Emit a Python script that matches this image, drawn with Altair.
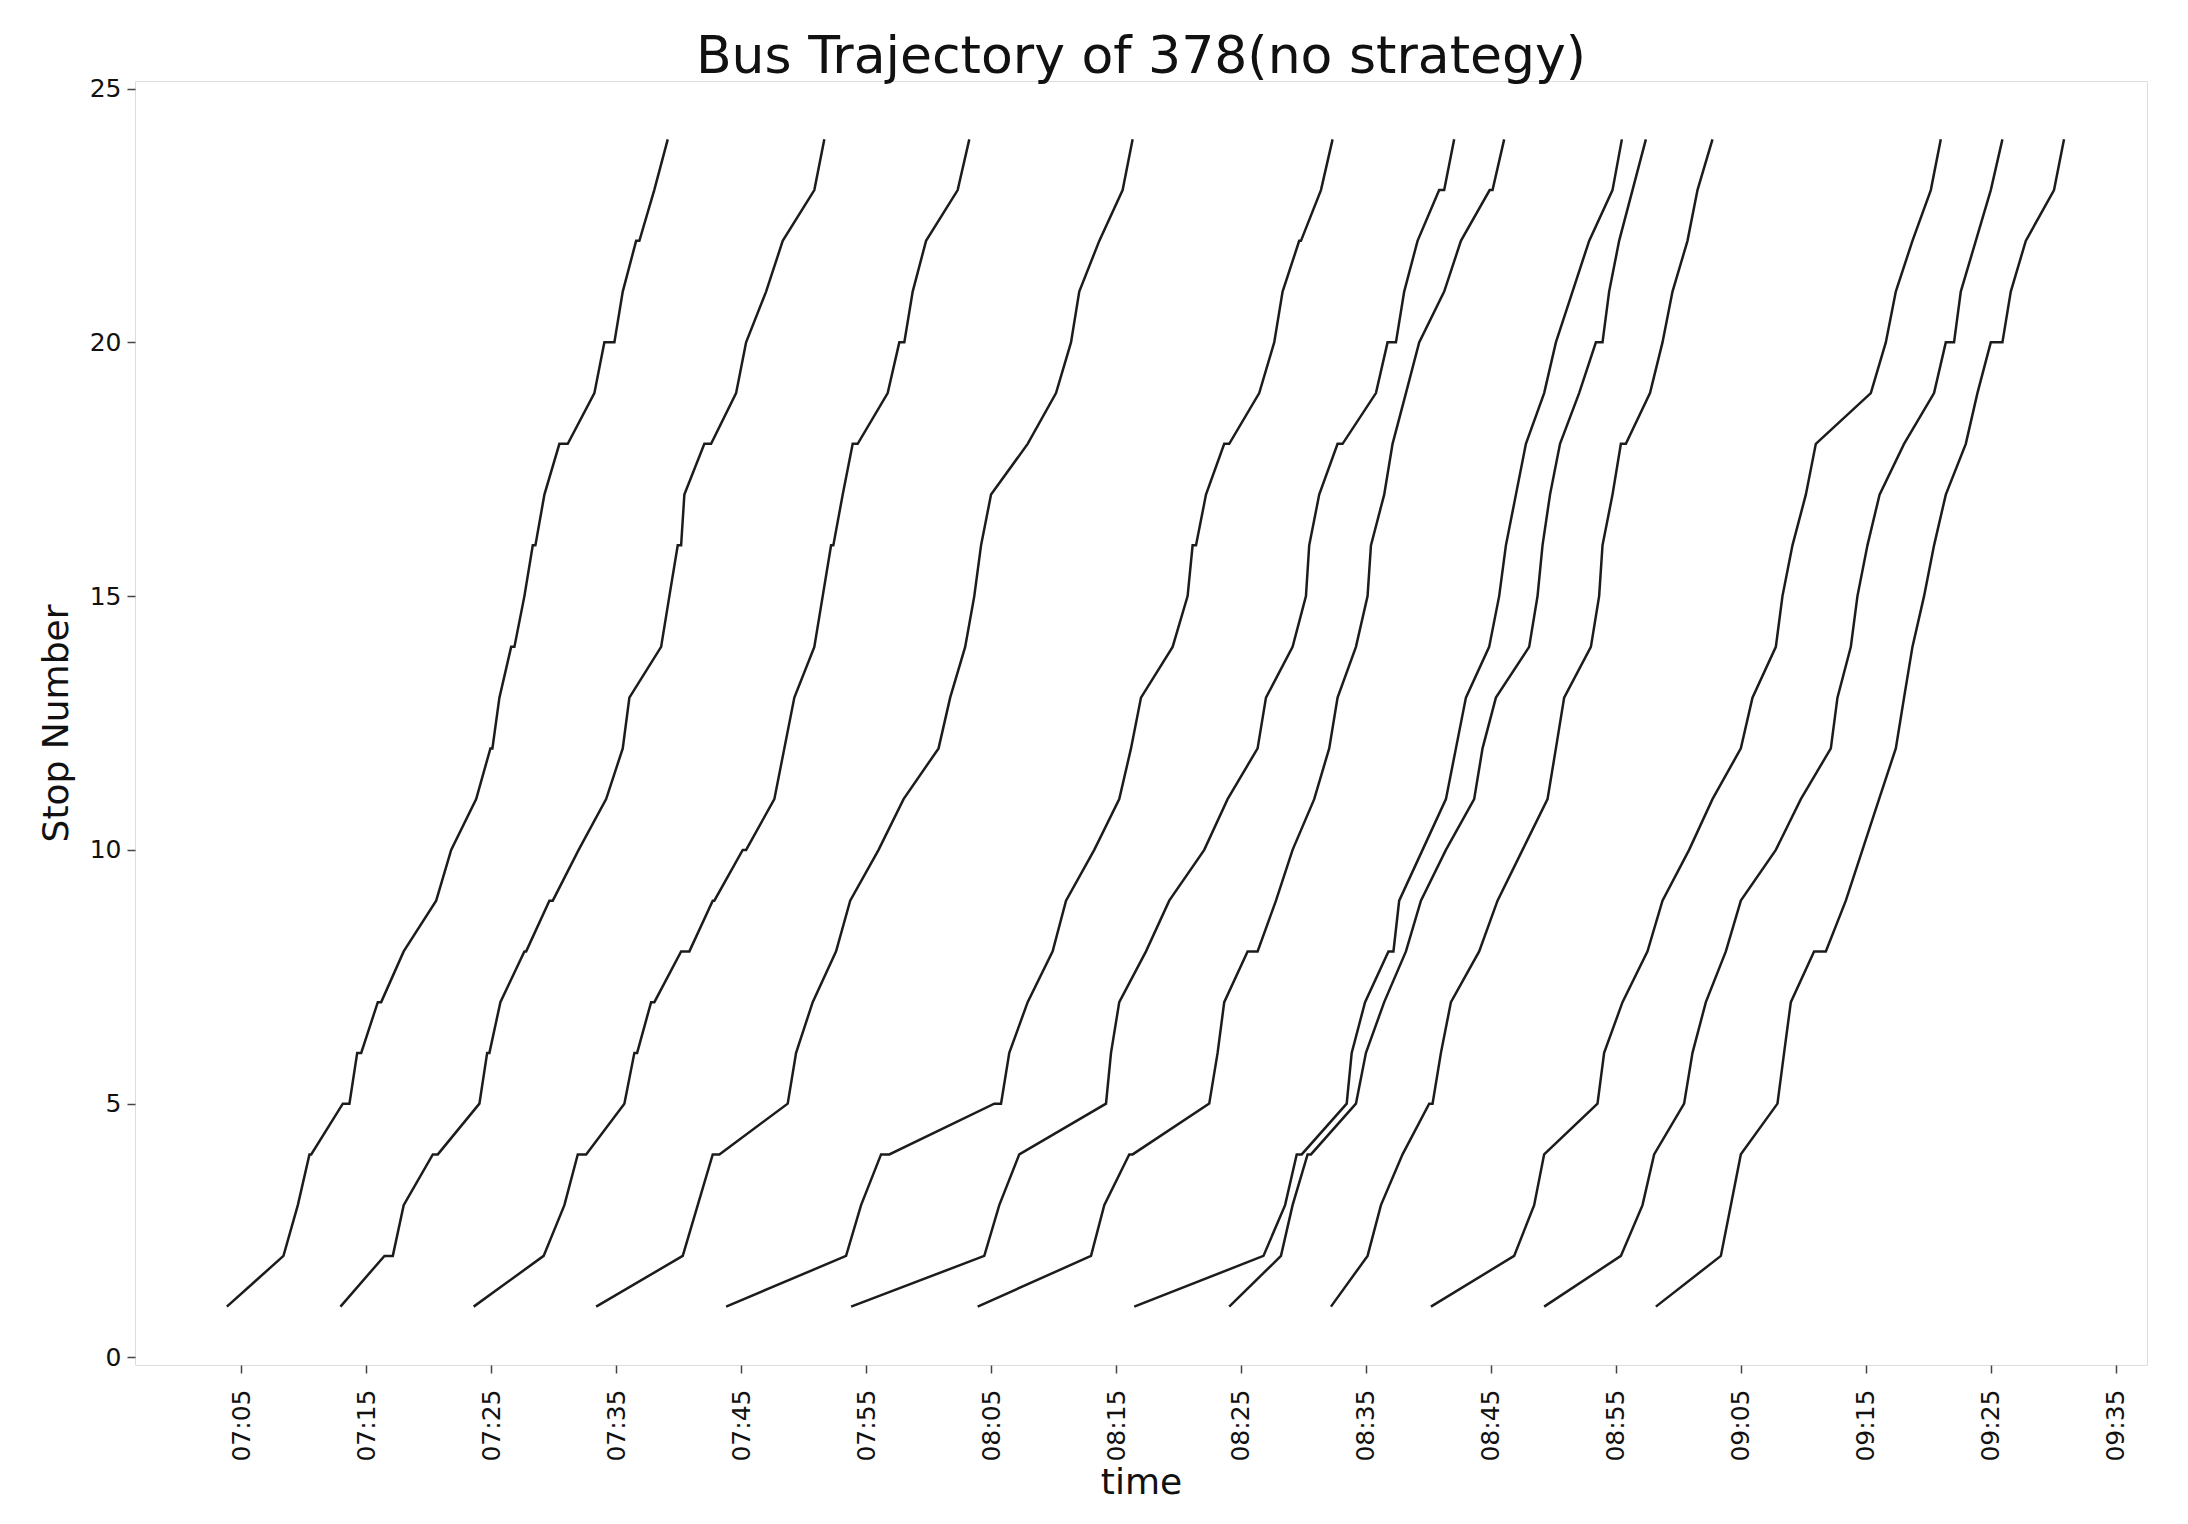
import altair as alt
import pandas as pd

TITLE = "Bus Trajectory of 378(no strategy)"
X_TITLE = "time"
Y_TITLE = "Stop Number"
# minutes after 07:00 at which x ticks are drawn (07:05 ... 09:35)
TICK_MINUTES = [5, 15, 25, 35, 45, 55, 65, 75, 85, 95, 105, 115, 125, 135, 145, 155]
Y_TICKS = [0, 5, 10, 15, 20, 25]

# each bus: (stop number, minutes after 07:00); repeated stops are dwell times
bus_1 = [(1, 3.85), (2, 8.38), (3, 9.53), (4, 10.46), (4, 10.6), (5, 13.13), (5, 13.66), (6, 14.28), (6, 14.6),
         (7, 15.93), (7, 16.2), (8, 18.0), (9, 20.6), (10, 21.8), (11, 23.8), (12, 24.94), (12, 25.1), (13, 25.66),
         (14, 26.6), (14, 26.86), (15, 27.66), (16, 28.33), (16, 28.54), (17, 29.26), (18, 30.46), (18, 31.13),
         (19, 33.26), (20, 34.06), (20, 34.86), (21, 35.53), (22, 36.6), (22, 36.86), (23, 38.05), (24, 39.13)]
bus_2 = [(1, 12.94), (2, 16.46), (2, 17.13), (3, 18.0), (4, 20.33), (4, 20.73), (5, 24.06), (6, 24.68), (6, 24.86),
         (7, 25.74), (8, 27.66), (8, 27.8), (9, 29.66), (9, 29.93), (10, 32.0), (11, 34.2), (12, 35.53), (13, 36.06),
         (14, 38.6), (15, 39.26), (16, 39.93), (16, 40.2), (17, 40.46), (18, 42.06), (18, 42.6), (19, 44.6),
         (20, 45.4), (21, 47.0), (22, 48.33), (23, 50.86), (24, 51.66)]
bus_3 = [(1, 23.6), (2, 29.2), (3, 30.86), (4, 31.93), (4, 32.6), (5, 35.66), (6, 36.46), (6, 36.68), (7, 37.8),
         (7, 38.06), (8, 40.2), (8, 40.86), (9, 42.73), (9, 42.86), (10, 45.13), (10, 45.4), (11, 47.66), (12, 48.46),
         (13, 49.26), (14, 50.86), (15, 51.53), (16, 52.2), (16, 52.38), (17, 53.13), (18, 53.93), (18, 54.33),
         (19, 56.73), (20, 57.66), (20, 58.06), (21, 58.73), (22, 59.8), (23, 62.33), (24, 63.26)]
bus_4 = [(1, 33.4), (2, 40.33), (3, 41.53), (4, 42.73), (4, 43.26), (5, 48.73), (6, 49.4), (7, 50.73), (8, 52.6),
         (9, 53.73), (10, 56.0), (11, 58.0), (12, 60.8), (13, 61.73), (14, 62.93), (15, 63.66), (16, 64.2),
         (17, 65.0), (18, 67.93), (19, 70.2), (20, 71.4), (21, 72.06), (22, 73.66), (23, 75.53), (24, 76.33)]
bus_5 = [(1, 43.8), (2, 53.4), (3, 54.6), (4, 56.2), (4, 56.86), (5, 65.26), (5, 65.8), (6, 66.46), (7, 67.93),
         (8, 69.93), (9, 71.0), (10, 73.26), (11, 75.26), (12, 76.2), (13, 77.0), (14, 79.53), (15, 80.73),
         (16, 81.13), (16, 81.4), (17, 82.2), (18, 83.66), (18, 84.06), (19, 86.46), (20, 87.66), (21, 88.33),
         (22, 89.66), (22, 89.8), (23, 91.4), (24, 92.33)]
bus_6 = [(1, 53.8), (2, 64.46), (3, 65.66), (4, 67.26), (5, 74.2), (6, 74.6), (7, 75.26), (8, 77.4), (9, 79.26),
         (10, 82.06), (11, 83.93), (12, 86.33), (13, 87.0), (14, 89.13), (15, 90.2), (16, 90.46), (17, 91.26),
         (18, 92.73), (18, 93.13), (19, 95.8), (20, 96.73), (20, 97.4), (21, 98.06), (22, 99.13), (23, 100.86),
         (23, 101.26), (24, 102.06)]
bus_7 = [(1, 63.93), (2, 73.0), (3, 74.06), (4, 76.06), (4, 76.33), (5, 82.46), (6, 83.13), (7, 83.66), (8, 85.53),
         (8, 86.33), (9, 87.8), (10, 89.13), (11, 90.86), (12, 92.06), (13, 92.73), (14, 94.2), (15, 95.13),
         (16, 95.4), (17, 96.46), (18, 97.13), (19, 98.2), (20, 99.26), (21, 101.26), (22, 102.6), (23, 104.9),
         (23, 105.13), (24, 106.06)]
bus_8 = [(1, 76.46), (2, 86.8), (3, 88.53), (4, 89.46), (4, 89.86), (5, 93.46), (6, 93.86), (7, 94.93), (8, 96.8),
         (8, 97.2), (9, 97.66), (10, 99.53), (11, 101.4), (12, 102.2), (13, 103.0), (14, 104.86), (15, 105.66),
         (16, 106.2), (17, 107.0), (18, 107.8), (19, 109.26), (20, 110.2), (21, 111.53), (22, 112.86), (23, 114.73),
         (24, 115.48)]
bus_9 = [(1, 84.06), (2, 88.2), (3, 89.13), (4, 90.33), (4, 90.6), (5, 94.2), (6, 95.0), (7, 96.46), (8, 98.2),
         (9, 99.4), (10, 101.4), (11, 103.66), (12, 104.33), (13, 105.4), (14, 108.06), (15, 108.73), (16, 109.13),
         (17, 109.73), (18, 110.53), (19, 112.06), (20, 113.4), (20, 113.93), (21, 114.46), (22, 115.26),
         (23, 116.33), (24, 117.4)]
bus_10 = [(1, 92.2), (2, 95.13), (3, 96.2), (4, 97.93), (5, 100.06), (5, 100.33), (6, 101.0), (7, 101.8),
          (8, 104.06), (9, 105.53), (10, 107.53), (11, 109.53), (12, 110.2), (13, 110.86), (14, 113.0), (15, 113.66),
          (16, 113.93), (17, 114.73), (18, 115.4), (18, 115.8), (19, 117.73), (20, 118.73), (21, 119.53),
          (22, 120.73), (23, 121.53), (24, 122.73)]
bus_11 = [(1, 100.2), (2, 106.86), (3, 108.46), (4, 109.26), (5, 113.53), (6, 114.06), (7, 115.53), (8, 117.53),
          (9, 118.73), (10, 120.86), (11, 122.73), (12, 125.0), (13, 125.93), (14, 127.8), (15, 128.33), (16, 129.13),
          (17, 130.2), (18, 131.0), (19, 135.4), (20, 136.6), (21, 137.4), (22, 138.73), (23, 140.2), (24, 141.0)]
bus_12 = [(1, 109.26), (2, 115.4), (3, 117.13), (4, 118.06), (5, 120.46), (6, 121.13), (7, 122.2), (8, 123.8),
          (9, 125.0), (10, 127.8), (11, 129.8), (12, 132.2), (13, 132.73), (14, 133.8), (15, 134.33), (16, 135.13),
          (17, 136.1), (18, 138.06), (19, 140.46), (20, 141.4), (20, 142.06), (21, 142.6), (22, 143.8), (23, 145.0),
          (24, 145.93)]
bus_13 = [(1, 118.2), (2, 123.4), (3, 124.2), (4, 125.0), (5, 127.93), (6, 128.46), (7, 129.0), (8, 130.86),
          (8, 131.8), (9, 133.4), (10, 134.73), (11, 136.06), (12, 137.4), (13, 138.06), (14, 138.73), (15, 139.66),
          (16, 140.46), (17, 141.4), (18, 143.0), (19, 143.93), (20, 145.0), (20, 145.93), (21, 146.6), (22, 147.8),
          (23, 150.06), (24, 150.86)]

buses = [bus_1, bus_2, bus_3, bus_4, bus_5, bus_6, bus_7, bus_8, bus_9, bus_10, bus_11, bus_12, bus_13]

rows = []
for i, bus in enumerate(buses):
    for j, (stop, minute) in enumerate(bus):
        rows.append({"bus": f"bus {i + 1}", "seq": j, "stop": stop, "minute": minute})
df = pd.DataFrame(rows)

label_expr = ("(datum.value + 420 < 600 ? '0' : '') + floor((datum.value + 420) / 60) + ':' + "
              "((datum.value + 420) % 60 < 10 ? '0' : '') + ((datum.value + 420) % 60)")

FONT = "DejaVu Sans"

chart = alt.Chart(df).mark_line(color="#1c1c1c", strokeWidth=2.5).encode(
    x=alt.X("minute:Q",
            scale=alt.Scale(domain=[-3.5, 157.5], nice=False, zero=False),
            axis=alt.Axis(values=TICK_MINUTES, labelExpr=label_expr, labelAngle=270, title=X_TITLE,
                          grid=False, domain=False, tickSize=8, tickWidth=1.5, tickColor="#444",
                          labelFont=FONT, labelFontSize=25, labelColor="#111", labelPadding=16,
                          titleFont=FONT, titleFontSize=36, titleFontWeight="normal", titleColor="#111",
                          titlePadding=4)),
    y=alt.Y("stop:Q",
            scale=alt.Scale(domain=[-0.15, 25.15], nice=False, zero=False),
            axis=alt.Axis(values=Y_TICKS, title=Y_TITLE, grid=False, domain=False,
                          tickSize=8, tickWidth=1.5, tickColor="#444",
                          labelFont=FONT, labelFontSize=25, labelColor="#111", labelPadding=6,
                          titleFont=FONT, titleFontSize=36, titleFontWeight="normal", titleColor="#111",
                          titlePadding=14)),
    detail="bus:N",
    order="seq:Q",
).properties(
    width=2012,
    height=1284,
    title=alt.TitleParams(TITLE, font=FONT, fontSize=52, fontWeight="normal", color="#111",
                          anchor="middle", offset=-7),
    autosize=alt.AutoSizeParams(type="none"),
    padding={"left": 127, "top": 73, "right": 20, "bottom": 150},
).configure_view(
    stroke="#9a9a9a", strokeWidth=2
).configure(background="white")

chart.save("out.html", embed_options={"renderer": "svg", "actions": False})
